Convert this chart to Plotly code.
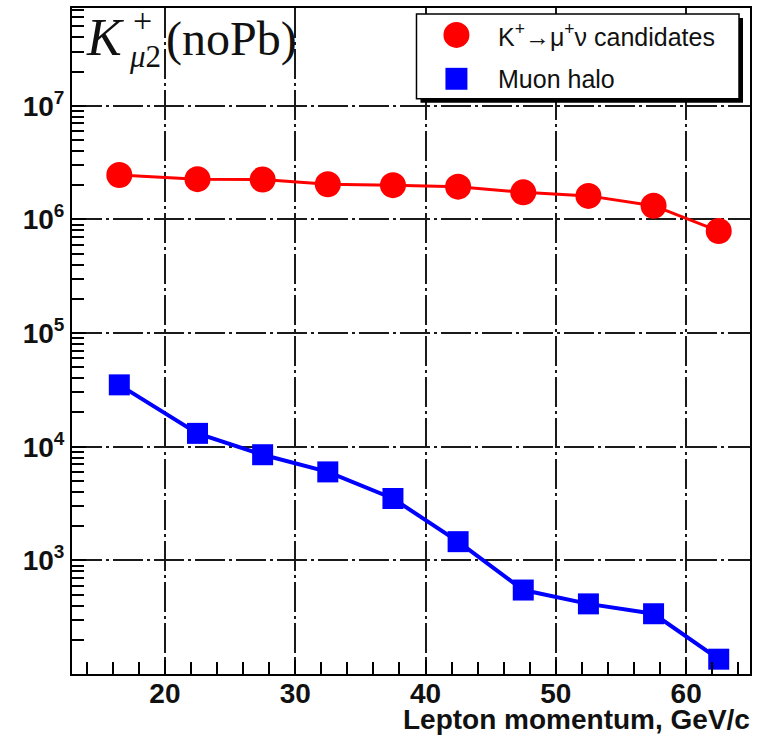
import plotly.graph_objects as go

# ---------------- data ----------------
momentum = [16.5, 22.5, 27.5, 32.5, 37.5, 42.5, 47.5, 52.5, 57.5, 62.5]
kmu2_candidates = [2.46e6, 2.26e6, 2.24e6, 2.04e6, 2.0e6, 1.94e6, 1.73e6, 1.61e6, 1.32e6, 7.9e5]
muon_halo = [3.5e4, 1.31e4, 8.5e3, 6.0e3, 3.5e3, 1.46e3, 548, 414, 339, 135]

y_tick_exponents = [3, 4, 5, 6, 7]
series_names = ["K<sup>+</sup>\u2192\u03bc<sup>+</sup>\u03bd candidates", "Muon halo"]
x_title = "Lepton momentum, GeV/c"

# ---------------- layout helpers ----------------
W, H = 758, 737
L, R, T, B = 72, 7, 6, 63
PW, PH = W - L - R, H - T - B


def px(xp):
    return (xp - L) / PW


def py(yp):
    return (H - B - yp) / PH


SANS = "Arial"
SERIF = "Liberation Serif"
tick_font = dict(family=SANS, size=28, color="#111", weight="bold")
grid_dash = "30px,4px,3px,4px"

y_tickvals = [10 ** e for e in y_tick_exponents]
y_ticktext = ["10<sup><span style='font-size:19px'>%d</span></sup>" % e for e in y_tick_exponents]

fig = go.Figure()

fig.add_trace(go.Scatter(
    x=momentum, y=kmu2_candidates, mode="lines+markers",
    line=dict(color="#ff0000", width=3),
    marker=dict(symbol="circle", size=26, color="#ff0000"),
    showlegend=False, name="K"))

fig.add_trace(go.Scatter(
    x=momentum, y=muon_halo, mode="lines+markers",
    line=dict(color="#0000ff", width=4),
    marker=dict(symbol="square", size=21, color="#0000ff"),
    showlegend=False, name="halo"))

fig.update_layout(
    width=W, height=H,
    margin=dict(l=L, r=R, t=T, b=B),
    paper_bgcolor="white", plot_bgcolor="white",
    showlegend=False,
)

fig.update_xaxes(
    range=[12.87, 64.9], tick0=0, dtick=10,
    showline=True, linewidth=2, linecolor="black", mirror=True,
    ticks="inside", ticklen=14, tickwidth=2, tickcolor="black",
    showgrid=True, gridcolor="#1a1a1a", gridwidth=2, griddash=grid_dash,
    zeroline=False,
    tickfont=tick_font, ticklabelstandoff=-7,
    minor=dict(dtick=2, tick0=0, ticks="inside", ticklen=12, tickwidth=2,
               tickcolor="black", showgrid=False),
)

fig.update_yaxes(
    type="log", range=[2.0, 7.86],
    tickmode="array", tickvals=y_tickvals, ticktext=y_ticktext,
    showline=True, linewidth=2, linecolor="black", mirror=True,
    ticks="inside", ticklen=14, tickwidth=2, tickcolor="black",
    showgrid=True, gridcolor="#1a1a1a", gridwidth=2, griddash=grid_dash,
    zeroline=False,
    tickfont=tick_font, ticklabelstandoff=0,
    minor=dict(tickmode="linear", dtick="D1", ticks="inside", ticklen=12, tickwidth=2,
               tickcolor="black", showgrid=False),
)

# x-axis title (right aligned under the axis)
fig.add_annotation(
    text=x_title, xref="paper", yref="paper",
    x=px(753), y=py(702), xanchor="right", yanchor="top",
    showarrow=False, font=dict(family=SANS, size=28, color="#111", weight="bold"))

# ---------------- legend box (manual) ----------------
shapes = []
shapes.append(dict(type="rect", xref="paper", yref="paper",
                   x0=px(421), x1=px(744), y0=py(101), y1=py(16),
                   fillcolor="black", line=dict(width=0), layer="above"))
shapes.append(dict(type="rect", xref="paper", yref="paper",
                   x0=px(417), x1=px(740), y0=py(97), y1=py(12),
                   fillcolor="white", line=dict(color="black", width=1.5), layer="above"))
shapes.append(dict(type="circle", xref="paper", yref="paper",
                   x0=px(444), x1=px(470), y0=py(46), y1=py(20),
                   fillcolor="#ff0000", line=dict(width=0), layer="above"))
shapes.append(dict(type="rect", xref="paper", yref="paper",
                   x0=px(446), x1=px(468), y0=py(88), y1=py(66),
                   fillcolor="#0000ff", line=dict(width=0), layer="above"))
fig.update_layout(shapes=shapes)

legend_font = dict(family=SANS, size=25, color="#111")
fig.add_annotation(text=series_names[0], xref="paper", yref="paper",
                   x=px(497), y=py(33), xanchor="left", yanchor="middle",
                   showarrow=False, font=legend_font)
fig.add_annotation(text=series_names[1], xref="paper", yref="paper",
                   x=px(497), y=py(77), xanchor="left", yanchor="middle",
                   showarrow=False, font=legend_font)

# ---------------- K_mu2 label ----------------
fig.add_annotation(text="<i>K</i>", xref="paper", yref="paper",
                   x=px(84), y=py(36), xanchor="left", yanchor="middle",
                   showarrow=False, font=dict(family=SERIF, size=52, color="#111"))
fig.add_annotation(text="+", xref="paper", yref="paper",
                   x=px(143), y=py(19), xanchor="center", yanchor="middle",
                   showarrow=False, font=dict(family=SERIF, size=34, color="#111"))
fig.add_annotation(text="<i>\u03bc</i>2", xref="paper", yref="paper",
                   x=px(145), y=py(55), xanchor="center", yanchor="middle",
                   showarrow=False, font=dict(family=SERIF, size=31, color="#111"))
fig.add_annotation(text="(noPb)", xref="paper", yref="paper",
                   x=px(164), y=py(37), xanchor="left", yanchor="middle",
                   showarrow=False, font=dict(family=SERIF, size=48, color="#111"))

fig.write_html("out.html")
